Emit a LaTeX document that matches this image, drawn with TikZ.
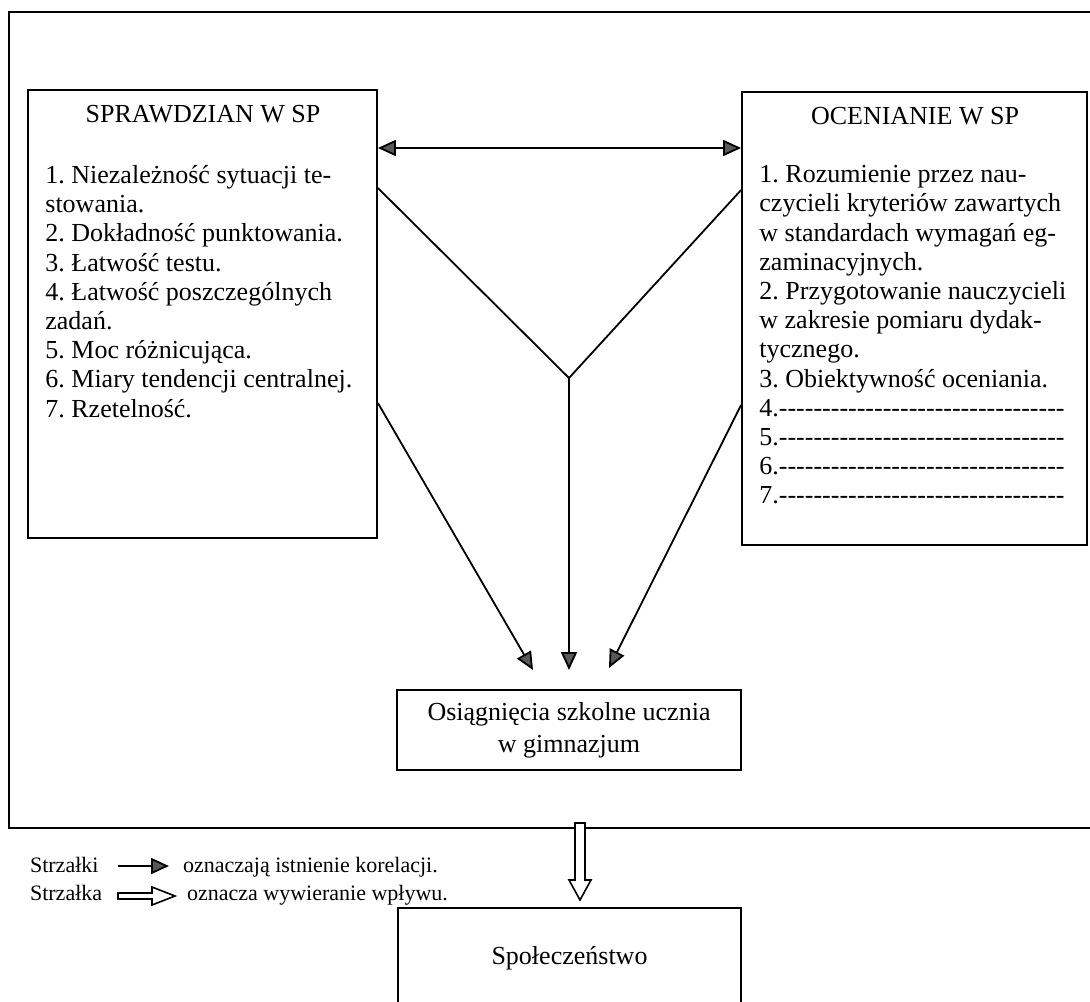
\documentclass[tikz,border=0pt]{standalone}
\usepackage{fontspec}
\setmainfont{Liberation Serif}
\usetikzlibrary{arrows.meta}
\frenchspacing
\newcommand{\kreski}{\foreach \k in {1,...,33}{\mbox{-}}}

\begin{document}
\begin{tikzpicture}[x=0.5pt, y=-0.5pt,
    tekst/.style={font=\fontsize{13pt}{14.6pt}\selectfont},
    legenda/.style={font=\fontsize{11pt}{13pt}\selectfont},
    ramka/.style={draw, line width=0.9pt, inner sep=0pt},
    korel/.style={line width=0.9pt, -{Triangle[length=9pt, width=8pt, fill=black!65]}},
    korel2/.style={line width=0.9pt, {Triangle[length=9pt, width=8pt, fill=black!65]}-{Triangle[length=9pt, width=8pt, fill=black!65]}},
    wplyw/.style={draw, fill=white, line width=0.8pt, line join=miter}]
    \useasboundingbox (0,0) rectangle (1090,1001);

    % Ramka zewnętrzna
    \draw[line width=0.9pt] (1090,12) -- (9,12) -- (9,828) -- (1090,828);

    % Prostokąty
    \node[ramka, minimum width=174.5pt, minimum height=224pt] (sprawdz) at (202.5,314) {};
    \node[ramka, minimum width=172.5pt, minimum height=226.5pt] (ocen) at (914.5,318.5) {};
    \node[ramka, tekst, align=center, minimum width=172pt, minimum height=40pt] (osiag) at (569,730) {Osiągnięcia szkolne ucznia\\[1.5pt]w gimnazjum};
    \node[ramka, tekst, minimum width=171.5pt, minimum height=50pt] (spol) at (569.5,958) {Społeczeństwo};

    % Tytuły i listy
    \node[tekst] (tyt1) at (203,114) {SPRAWDZIAN W SP};
    \node[tekst, anchor=north west, align=left, inner sep=0pt] (lista1) at (45,165) {1. Niezależność sytuacji te-\\stowania.\\2. Dokładność punktowania.\\3. Łatwość testu.\\4. Łatwość poszczególnych\\zadań.\\5. Moc różnicująca.\\6. Miary tendencji centralnej.\\7. Rzetelność.};
    \node[tekst] (tyt2) at (915,116) {OCENIANIE W SP};
    \node[tekst, anchor=north west, align=left, inner sep=0pt] (lista2) at (759,165) {1. Rozumienie przez nau-\\czycieli kryteriów zawartych\\w standardach wymagań eg-\\zaminacyjnych.\\2. Przygotowanie nauczycieli\\w zakresie pomiaru dydak-\\tycznego.\\3. Obiektywność oceniania.\\4.\kreski\\5.\kreski\\6.\kreski\\7.\kreski};

    % Korelacje
    \coordinate (wezel) at (569,378);
    \coordinate (grotL) at (533,670);
    \coordinate (grotP) at (609,668);
    \draw[korel2] (sprawdz.east |- 0,148) -- (ocen.west |- 0,148);
    \draw[line width=0.9pt] (sprawdz.east |- 0,188) -- (wezel) -- (ocen.west |- 0,190);
    \draw[korel] (wezel) -- (wezel |- grotL);
    \draw[korel] (sprawdz.east |- 0,403) -- (grotL);
    \draw[korel] (ocen.west |- 0,405) -- (grotP);

    % Wpływ
    \draw[wplyw] (575,823) -- ++(10,0) -- ++(0,57) -- ++(6,0) -- (580,900) -- (569,880) -- ++(6,0) -- cycle;

    % Legenda
    \node[legenda, anchor=base west] (strz1) at (23,872) {Strzałki};
    \node[legenda, anchor=base west] (opis1) at (176,872) {oznaczają istnienie korelacji.};
    \coordinate (lg1) at (118,866);
    \draw[korel] (lg1) -- (169,866);
    \node[legenda, anchor=base west] (strz2) at (23,900) {Strzałka};
    \node[legenda, anchor=base west] (opis2) at (180,900) {oznacza wywieranie wpływu.};
    \draw[wplyw] (118,893) -- (152,893) -- (152,887) -- (175,896) -- (152,905) -- (152,899) -- (118,899) -- cycle;
\end{tikzpicture}
\end{document}
